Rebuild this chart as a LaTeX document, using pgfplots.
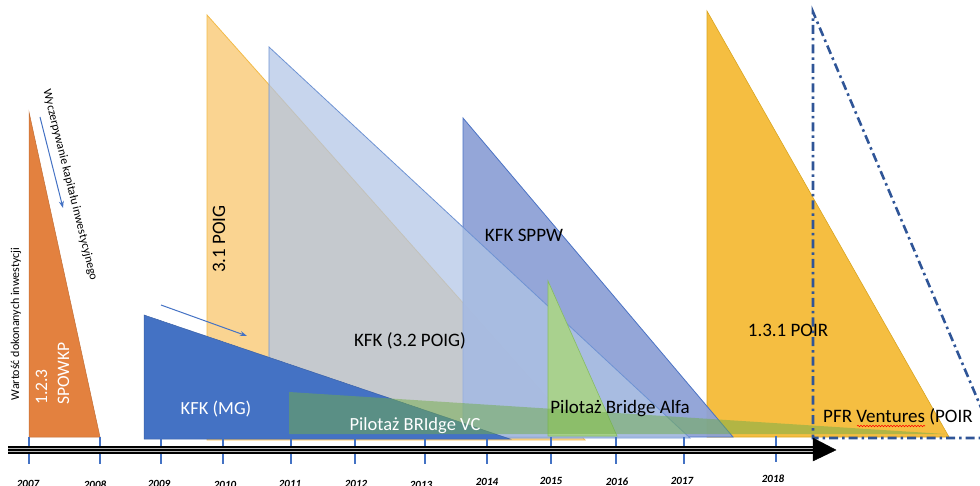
\documentclass[border=0pt]{standalone}
\usepackage{fontspec}
\setmainfont{Carlito}
\usepackage{pgfplots}
\pgfplotsset{compat=1.18}
\usetikzlibrary{arrows.meta,decorations.pathmorphing}
\definecolor{spowkp}{HTML}{E3813F}
\definecolor{poig}{HTML}{FAD491}
\definecolor{poigedge}{HTML}{F2BB4A}
\definecolor{lightb}{HTML}{B1C5E6}
\definecolor{lightbedge}{HTML}{6E93D3}
\definecolor{sppw}{HTML}{8EA1D6}
\definecolor{sppwedge}{HTML}{4A72C4}
\definecolor{mgblue}{HTML}{4472C4}
\definecolor{alfa}{HTML}{A9D18E}
\definecolor{alfaedge}{HTML}{86BC62}
\definecolor{vcgreen}{HTML}{70AD47}
\definecolor{poir}{HTML}{F5BE41}
\definecolor{poiredge}{HTML}{D9A520}
\definecolor{pfr}{HTML}{2F5597}
\definecolor{tickblue}{HTML}{4472C4}
\begin{document}
\begin{tikzpicture}
\begin{axis}[width=980pt,height=486pt,scale only axis,
  xmin=0,xmax=980,ymin=0,ymax=486,y dir=reverse,hide axis,clip=true]
% 1.3.1 POIR
\addplot[fill=poir,draw=poiredge,line width=0.6pt] coordinates {(707,11) (707,437) (949,437)} -- cycle;
% 1.2.3 SPOWKP
\addplot[fill=spowkp,draw=spowkp!85!black,line width=0.5pt] coordinates {(29,112) (29,437) (100,437)} -- cycle;
% 3.1 POIG
\addplot[fill=poig,draw=poigedge,line width=0.8pt] coordinates {(207,15) (207,440) (585,440)} -- cycle;
% KFK SPPW
\addplot[fill=sppw,draw=sppwedge,line width=0.8pt,fill opacity=0.95] coordinates {(463,118) (463,437) (733,437)} -- cycle;
% KFK (3.2 POIG)
\addplot[fill=lightb,fill opacity=0.72,draw=lightbedge,line width=0.8pt] coordinates {(269,47) (269,438) (690,438)} -- cycle;
% KFK (MG)
\addplot[fill=mgblue,draw=mgblue!85!black,line width=0.5pt] coordinates {(144,315) (144,439) (510,439)} -- cycle;
% Pilotaz Bridge Alfa
\addplot[fill=alfa,draw=alfaedge,line width=0.6pt] coordinates {(548,281) (548,436) (617,436)} -- cycle;
% Pilotaz BRIdge VC wedge
\addplot[fill=vcgreen,fill opacity=0.5,draw=none] coordinates {(289,392) (289,434) (945,434)} -- cycle;
% PFR Ventures dash-dot triangle
\addplot[pfr,line width=2.6pt,dash pattern=on 9pt off 4pt on 2.5pt off 4pt] coordinates {(994,438) (813,438) (813,12) (994,438)};
% ticks
\addplot[tickblue,line width=1.2pt] coordinates {(29,437) (29,464)};
\addplot[tickblue,line width=1.2pt] coordinates {(100,437) (100,464)};
\addplot[tickblue,line width=1.2pt] coordinates {(161,437) (161,464)};
\addplot[tickblue,line width=1.2pt] coordinates {(223,437) (223,464)};
\addplot[tickblue,line width=1.2pt] coordinates {(291,437) (291,464)};
\addplot[tickblue,line width=1.2pt] coordinates {(355,437) (355,464)};
\addplot[tickblue,line width=1.2pt] coordinates {(425,437) (425,464)};
\addplot[tickblue,line width=1.2pt] coordinates {(487,437) (487,464)};
\addplot[tickblue,line width=1.2pt] coordinates {(551,437) (551,464)};
\addplot[tickblue,line width=1.2pt] coordinates {(616,437) (616,464)};
\addplot[tickblue,line width=1.2pt] coordinates {(684,437) (684,464)};
\addplot[tickblue,line width=1.2pt] coordinates {(776,436) (776,462)};
% timeline
\addplot[black,line width=8pt] coordinates {(8,450) (815,450)};
\addplot[gray!55,line width=0.8pt] coordinates {(8,448.2) (815,448.2)};
\addplot[gray!55,line width=0.8pt] coordinates {(8,451.8) (815,451.8)};
\addplot[fill=black,draw=black] coordinates {(813,438) (836,450) (813,461)} -- cycle;
% arrows
\addplot[mgblue,line width=1pt,-{Stealth[length=7pt,width=5pt]}] coordinates {(40,117) (63,208)};
\addplot[mgblue,line width=1pt,-{Stealth[length=7pt,width=5pt]}] coordinates {(161,305) (247,336)};
% year labels
\begin{scope}[every node/.style={font=\fontsize{11}{13}\selectfont\bfseries\itshape,anchor=base}]
\node at (axis cs:28,487.5) {2007};
\node at (axis cs:95,488) {2008};
\node at (axis cs:159,487.5) {2009};
\node at (axis cs:225,488) {2010};
\node at (axis cs:290,487.5) {2011};
\node at (axis cs:356,487.5) {2012};
\node at (axis cs:421,488) {2013};
\node at (axis cs:487,485) {2014};
\node at (axis cs:551,484) {2015};
\node at (axis cs:617,485) {2016};
\node at (axis cs:682,484) {2017};
\node at (axis cs:773,482) {2018};
\end{scope}
% labels
\node[font=\fontsize{19}{22}\selectfont,anchor=base] at (axis cs:410,347) {KFK (3.2 POIG)};
\node[font=\fontsize{19}{22}\selectfont,anchor=base] at (axis cs:524,242) {KFK SPPW};
\node[font=\fontsize{19}{22}\selectfont,anchor=base] at (axis cs:620,413) {Pilotaż Bridge Alfa};
\node[font=\fontsize{18.5}{22}\selectfont,anchor=base,white] at (axis cs:415,430) {Pilotaż BRIdge VC};
\node[font=\fontsize{18.5}{22}\selectfont,anchor=base,white] at (axis cs:216,414) {KFK (MG)};
\node[font=\fontsize{19}{22}\selectfont,anchor=base] at (axis cs:788,337) {1.3.1 POIR};
\node[font=\fontsize{19}{22}\selectfont,anchor=base west,inner sep=0pt] at (axis cs:823,422) {PFR Ventures (POIR};
\draw[red,line width=0.6pt,decorate,decoration={snake,amplitude=0.7pt,segment length=3pt}] (axis cs:857,426) -- (axis cs:925,426);
\node[font=\fontsize{19}{22}\selectfont,anchor=base west,rotate=90,inner sep=0pt] at (axis cs:225,273) {3.1 POIG};
\node[font=\fontsize{17.5}{20}\selectfont,anchor=base west,rotate=90,inner sep=0pt,white] at (axis cs:47,405) {1.2.3};
\node[font=\fontsize{17.5}{20}\selectfont,anchor=base west,rotate=90,inner sep=0pt,white] at (axis cs:69,405) {SPOWKP};
\node[font=\fontsize{12}{14}\selectfont,rotate=90] at (axis cs:16,324) {Wartość dokonanych inwestycji};
\node[font=\fontsize{12}{14}\selectfont,rotate=-76] at (axis cs:70,185) {Wyczerpywanie kapitału inwestycyjnego};
\coordinate (bl) at (axis cs:0,486);
\coordinate (tr) at (axis cs:980,0);
\end{axis}
\pgfresetboundingbox
\path[use as bounding box] (bl) rectangle (tr);
\end{tikzpicture}
\end{document}
